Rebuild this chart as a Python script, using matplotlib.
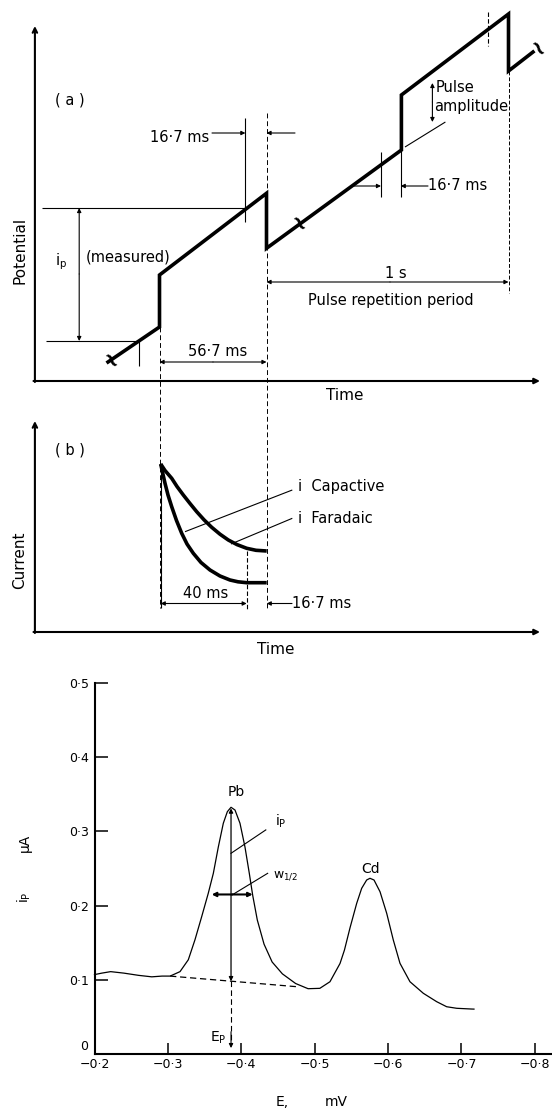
import matplotlib.pyplot as plt

# ---------- panel (a): potential waveform (schematic, pixel units, y down)
wave_x = [108.0, 159.5, 159.5, 266.5, 266.5, 401.4, 401.4, 508.5, 508.5, 533.0]
wave_y = [362.0, 327.0, 275.0, 193.3, 248.3, 150.0, 95.0, 14.0, 71.0, 52.0]
squig_x = [109.0, 297.0, 536.0]
squig_y = [362.0, 225.0, 50.0]

# ---------- panel (b): current decay after pulse (schematic, pixel units)
farad_x = [160.7, 165.0, 171.7, 177.0, 183.3, 190.0, 196.7, 204.0, 211.7, 220.0,
           228.3, 237.0, 246.7, 256.0, 266.7]
farad_y = [464.0, 470.5, 478.3, 486.5, 495.0, 503.5, 511.7, 519.8, 527.3, 534.2,
           540.0, 544.6, 548.3, 550.3, 551.0]
capac_x = [160.7, 162.8, 165.0, 168.0, 171.7, 176.5, 181.7, 187.0, 193.3, 201.0,
           210.0, 220.0, 230.0, 238.0, 246.7, 266.7]
capac_y = [464.0, 473.5, 483.3, 495.0, 506.7, 520.5, 533.3, 544.0, 553.3, 562.5,
           570.0, 576.0, 580.0, 581.8, 582.7, 582.7]

# ---------- panel (c): differential pulse voltammogram
E = [-0.200, -0.210, -0.222, -0.240, -0.260, -0.278, -0.292, -0.303, -0.3165, -0.3278,
     -0.3369, -0.346, -0.355, -0.3619, -0.3687, -0.3755, -0.381, -0.386, -0.3914, -0.3982,
     -0.405, -0.4109, -0.4155, -0.4218, -0.431, -0.442, -0.456, -0.474, -0.491, -0.507,
     -0.5208, -0.5345, -0.5405, -0.5481, -0.5572, -0.564, -0.5708, -0.5753, -0.5808, -0.589,
     -0.5981, -0.6071, -0.6162, -0.6298, -0.648, -0.6662, -0.6798, -0.6935, -0.7139, -0.717]
I = [0.107, 0.109, 0.111, 0.109, 0.106, 0.104, 0.105, 0.105, 0.111, 0.127,
     0.154, 0.185, 0.2166, 0.2435, 0.279, 0.311, 0.3266, 0.3325, 0.3288, 0.311,
     0.279, 0.2435, 0.214, 0.1806, 0.148, 0.124, 0.108, 0.095, 0.088, 0.0885,
     0.0974, 0.122, 0.140, 0.170, 0.203, 0.2233, 0.2345, 0.2368, 0.2345, 0.2187,
     0.1896, 0.1536, 0.1222, 0.0974, 0.0818, 0.0705, 0.0637, 0.0616, 0.0606, 0.0605]
base_E = [-0.303, -0.4755]
base_I = [0.105, 0.0907]
Ep = -0.386
ip_top = 0.331
ip_base = 0.098
w_E = [-0.3597, -0.4155]
w_I = 0.215
xtick_vals = [-0.2, -0.3, -0.4, -0.5, -0.6, -0.7, -0.8]
xtick_labels = ['\u22120\u00b72', '\u22120\u00b73', '\u22120\u00b74', '\u22120\u00b75',
                '\u22120\u00b76', '\u22120\u00b77', '\u22120\u00b78']
ytick_vals = [0, 0.1, 0.2, 0.3, 0.4, 0.5]
ytick_labels = ['', '0\u00b71', '0\u00b72', '0\u00b73', '0\u00b74', '0\u00b75']

plt.rcParams['font.family'] = ['DejaVu Sans']

fig = plt.figure(figsize=(5.52, 11.11), dpi=100)
ax = fig.add_axes([0, 0, 1, 1])
ax.set_xlim(0, 552)
ax.set_ylim(1111, 0)
ax.axis('off')


def arr(x0, y0, x1, y1, style='-|>', lw=0.8, ms=7, a=None):
    a = a or ax
    a.annotate('', xy=(x1, y1), xytext=(x0, y0),
               arrowprops=dict(arrowstyle=style, lw=lw, color='k', mutation_scale=ms,
                               shrinkA=0, shrinkB=0))


def seg(xs, ys, lw=0.8, ls='-', a=None):
    a = a or ax
    a.plot(xs, ys, color='k', lw=lw, ls=ls, solid_capstyle='butt')


fs = 10.5

# ---- panel (a)
arr(34.9, 382, 34.9, 26, '->', lw=1.5, ms=8)
arr(33.5, 381, 540, 381, '-|>', lw=1.5, ms=8)
ax.plot(wave_x, wave_y, color='k', lw=2.6, solid_joinstyle='miter')
for sx, sy in zip(squig_x, squig_y):
    ax.text(sx, sy, '~', fontsize=16, fontweight='bold', rotation=-55,
            ha='center', va='center')

seg([159.5, 159.5], [327, 608], lw=0.7, ls=(0, (5, 3)))
seg([266.5, 266.5], [113, 608], lw=0.7, ls=(0, (5, 3)))
seg([245.4, 245.4], [118, 222])
seg([139, 139], [340, 366])
seg([381, 381], [152, 197])
seg([400.7, 400.7], [150, 197])
seg([488.4, 488.4], [12, 46], ls=(0, (4, 2)))
seg([508.5, 508.5], [71, 293], lw=0.7, ls=(0, (4, 2)))
seg([42.3, 245.4], [208, 208])
seg([45.8, 139], [341, 341])
arr(79.2, 274, 79.2, 208, '-|>', ms=6)
arr(79.2, 274, 79.2, 341, '-|>', ms=6)
ax.text(61, 262, 'i$_\\mathregular{p}$', fontsize=fs, ha='center', va='center')
ax.text(128, 257, '(measured)', fontsize=fs, ha='center', va='center')
ax.text(70, 100, '( a )', fontsize=fs, ha='center', va='center')

ax.text(180, 137, '16\u00b77 ms', fontsize=fs, ha='center', va='center')
arr(212, 133, 245.4, 133, '-|>', ms=6)
arr(295, 133, 266.5, 133, '-|>', ms=6)
arr(213, 362, 159.5, 362, '-|>', ms=6)
arr(213, 362, 266.5, 362, '-|>', ms=6)
ax.text(218, 352, '56\u00b77 ms', fontsize=fs, ha='center', va='center')
arr(390, 282, 266.5, 282, '-|>', ms=6)
arr(390, 282, 508.5, 282, '-|>', ms=6)
ax.text(396, 273, '1 s', fontsize=fs, ha='center', va='center')
ax.text(391, 300, 'Pulse repetition period', fontsize=fs, ha='center', va='center')

arr(432.4, 102, 432.4, 83, '-|>', ms=6)
arr(432.4, 102, 432.4, 122, '-|>', ms=6)
ax.text(436, 88, 'Pulse', fontsize=fs, ha='left', va='center')
ax.text(434, 106, 'amplitude', fontsize=fs, ha='left', va='center')
seg([405, 445.4], [147, 122])
arr(353.9, 186, 381, 186, '-|>', ms=6)
arr(428, 186, 400.7, 186, '-|>', ms=6)
ax.text(428, 186, '16\u00b77 ms', fontsize=fs, ha='left', va='center')

ax.text(20, 250, 'Potential', fontsize=11, rotation=90, ha='center', va='center')
ax.text(345, 395, 'Time', fontsize=11, ha='center', va='center')

# ---- panel (b)
arr(34.9, 633, 34.9, 421, '->', lw=1.5, ms=8)
arr(33.5, 632, 540, 632, '-|>', lw=1.5, ms=8)
ax.plot(farad_x, farad_y, color='k', lw=2.6, solid_capstyle='butt')
ax.plot(capac_x, capac_y, color='k', lw=2.6, solid_capstyle='butt')
seg([160.7, 160.7], [467, 608])
seg([246.7, 246.7], [551, 610], ls=(0, (4, 2)))
seg([185, 292.3], [531.7, 490])
seg([231, 292.3], [544, 518.3])
ax.text(297.5, 486.5, 'i  Capactive', fontsize=fs, ha='left', va='center')
ax.text(297.5, 518.3, 'i  Faradaic', fontsize=fs, ha='left', va='center')
ax.text(70, 450, '( b )', fontsize=fs, ha='center', va='center')
arr(203, 603.5, 160.7, 603.5, '-|>', ms=6)
arr(203, 603.5, 246.7, 603.5, '-|>', ms=6)
ax.text(206, 594, '40 ms', fontsize=fs, ha='center', va='center')
arr(292, 603.5, 266.7, 603.5, '-|>', ms=6)
ax.text(292, 603.5, '16\u00b77 ms', fontsize=fs, ha='left', va='center')
ax.text(20, 560, 'Current', fontsize=11, rotation=90, ha='center', va='center')
ax.text(276, 650, 'Time', fontsize=11, ha='center', va='center')

# ---- panel (c)
axc = fig.add_axes([94.5 / 552, 57 / 1111, 457.5 / 552, 371 / 1111])
axc.patch.set_alpha(0)
axc.set_xlim(-0.2, -0.8233)
axc.set_ylim(0, 0.5)
for s in ('top', 'right'):
    axc.spines[s].set_visible(False)
for s in ('left', 'bottom'):
    axc.spines[s].set_linewidth(1.5)
axc.plot(E, I, color='k', lw=0.9, clip_on=False)
axc.plot(base_E, base_I, color='k', lw=0.9, dashes=(5, 3))
axc.set_xticks(xtick_vals)
axc.set_xticklabels(xtick_labels, fontsize=9)
axc.set_yticks(ytick_vals)
axc.set_yticklabels(ytick_labels, fontsize=9)
axc.tick_params(axis='x', direction='in', length=8, width=1.1, pad=3)
axc.tick_params(axis='y', direction='in', length=9, width=1.1, pad=4)
ax.text(88, 1047, '0', fontsize=9, ha='right', va='center')

arr(Ep, (ip_top + ip_base) / 2, Ep, ip_top, '-|>', lw=0.9, ms=6, a=axc)
arr(Ep, (ip_top + ip_base) / 2, Ep, ip_base, '-|>', lw=0.9, ms=6, a=axc)
axc.plot([Ep, Ep], [ip_base, 0.012], color='k', lw=0.8, dashes=(5, 3))
arr(Ep, 0.03, Ep, 0.008, '-|>', lw=0.8, ms=6, a=axc)
mid_w = (w_E[0] + w_E[1]) / 2
arr(mid_w, w_I, w_E[0], w_I, '-|>', lw=1.5, ms=6, a=axc)
arr(mid_w, w_I, w_E[1], w_I, '-|>', lw=1.5, ms=6, a=axc)
axc.plot([Ep, -0.4334], [0.2705, 0.302], color='k', lw=0.8)
axc.plot([-0.3885, -0.4359], [0.215, 0.2435], color='k', lw=0.8)
axc.text(-0.4454, 0.302, 'i$_\\mathregular{P}$', fontsize=10, ha='left', va='bottom')
axc.text(-0.443, 0.240, 'w$_\\mathregular{1/2}$', fontsize=9, ha='left', va='center')
axc.text(-0.3936, 0.353, 'Pb', fontsize=10, ha='center', va='center')
axc.text(-0.5759, 0.249, 'Cd', fontsize=10, ha='center', va='center')
axc.text(-0.3795, 0.022, 'E$_\\mathregular{P}$', fontsize=10, ha='right', va='center')

ax.text(24.6, 843, '\u03bcA', fontsize=10, rotation=90, ha='center', va='center')
ax.text(24.6, 897, 'i$_\\mathregular{P}$', fontsize=10, rotation=90, ha='center', va='center')
ax.text(281.7, 1102, 'E,', fontsize=10, ha='center', va='center')
ax.text(336.3, 1102, 'mV', fontsize=10, ha='center', va='center')

fig.savefig('out.png', dpi=100)
